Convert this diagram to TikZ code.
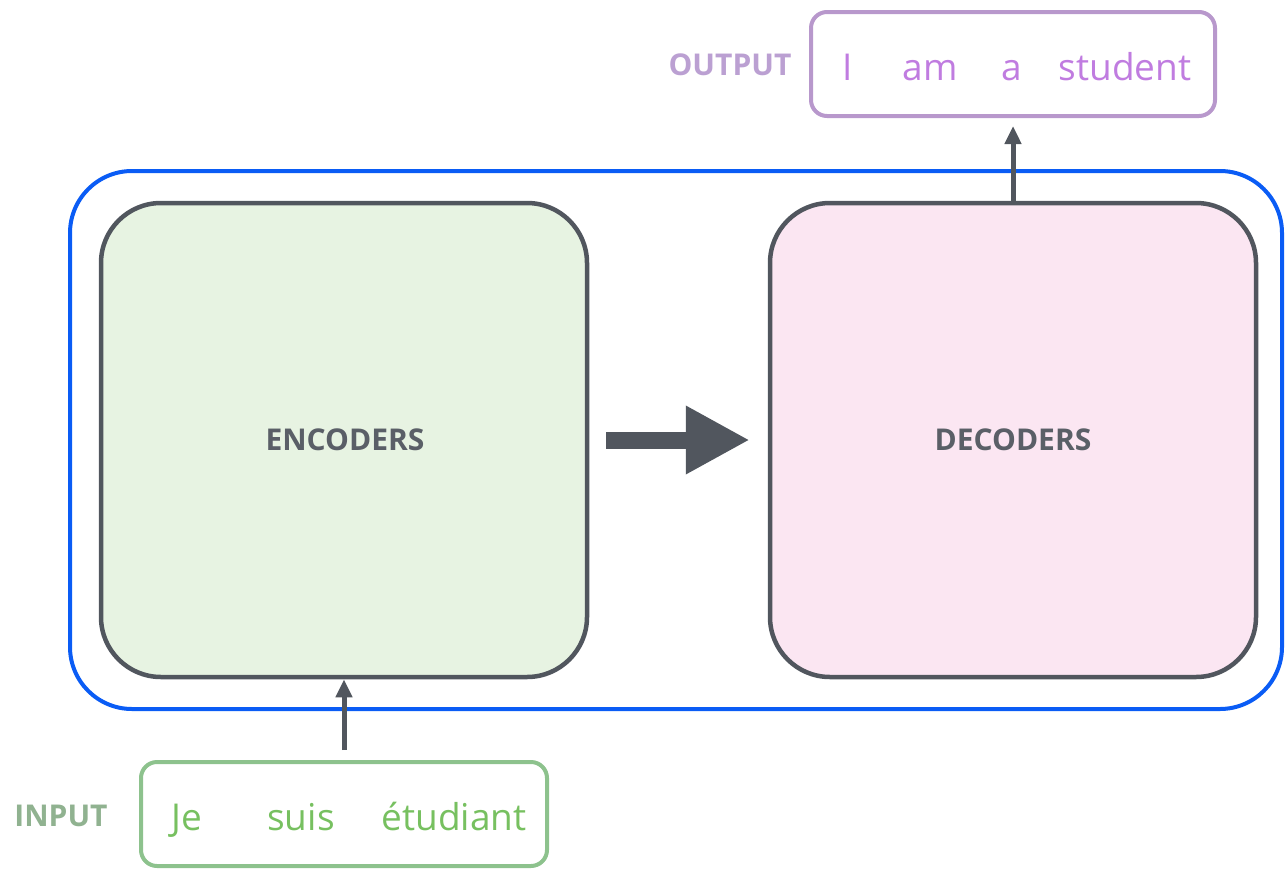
\documentclass[tikz,border=0pt]{standalone}
\usepackage{fontspec}
\setmainfont{Open Sans}
\usetikzlibrary{arrows.meta}
\definecolor{frameblue}{HTML}{0A5CF5}
\definecolor{boxgrey}{HTML}{51565E}
\definecolor{labelgrey}{HTML}{5A5F67}
\definecolor{encfill}{HTML}{E7F3E2}
\definecolor{decfill}{HTML}{FBE6F2}
\definecolor{outstroke}{HTML}{B898CC}
\definecolor{outtext}{HTML}{C07CE0}
\definecolor{outlabel}{HTML}{BBA0D2}
\definecolor{instroke}{HTML}{8DC28D}
\definecolor{intext}{HTML}{77C060}
\definecolor{inlabel}{HTML}{90B290}
\begin{document}
\begin{tikzpicture}[x=1pt,y=-1pt,
  bigbox/.style={draw=boxgrey, line width=4.5pt, rounded corners=60pt, minimum width=486pt, minimum height=474pt, inner sep=0pt},
  framebox/.style={draw=frameblue, line width=4pt, rounded corners=62pt, minimum width=1212pt, minimum height=538pt, inner sep=0pt},
  wordbox/.style={line width=4pt, rounded corners=16pt, minimum height=104pt, inner sep=0pt},
  boxlabel/.style={font=\fontsize{30}{36}\selectfont\bfseries, text=labelgrey},
  word/.style={font=\fontsize{37}{44}\selectfont, anchor=base, inner sep=0pt},
  sidelabel/.style={font=\fontsize{30}{36}\selectfont\bfseries, inner sep=0pt},
  smallarrow/.style={draw=boxgrey, line width=5pt, -{Triangle[length=18pt,width=16pt]}},
  bigarrow/.style={draw=boxgrey, line width=17pt, -{Triangle[length=64pt,width=64pt]}}
]
\useasboundingbox (0,0) rectangle (1285,870);
\node[framebox] (frame) at (676,440) {};
\node[bigbox, fill=encfill] (enc) at (344,440) {};
\node[bigbox, fill=decfill] (dec) at (1013,440) {};
\node[boxlabel] (enclabel) at (345,440) {ENCODERS};
\node[boxlabel] (declabel) at (1013,440) {DECODERS};
\draw[bigarrow, shorten <=17pt, shorten >=18pt] (enc.east) -- (dec.west);
% output
\node[wordbox, draw=outstroke, minimum width=404pt] (out) at (1013,64) {};
\node[sidelabel, text=outlabel] (outlab) at (730,65) {OUTPUT};
\node[word, text=outtext] (w1) at (848,80) {I};
\node[word, text=outtext] (w2) at (930,80) {am};
\node[word, text=outtext] (w3) at (1012,80) {a};
\node[word, text=outtext] (w4) at (1125,80) {student};
\draw[smallarrow, shorten >=8pt] (dec.north) -- (out.south);
% input
\node[wordbox, draw=instroke, minimum width=406pt] (inp) at (344,814) {};
\node[sidelabel, text=inlabel] (inlab) at (61,816) {INPUT};
\node[word, text=intext] (v1) at (187,830) {Je};
\node[word, text=intext] (v2) at (301,830) {suis};
\node[word, text=intext] (v3) at (454,830) {étudiant};
\coordinate (inptop) at (344,750);
\draw[smallarrow] (inptop) -- (enc.south);
\end{tikzpicture}
\end{document}
